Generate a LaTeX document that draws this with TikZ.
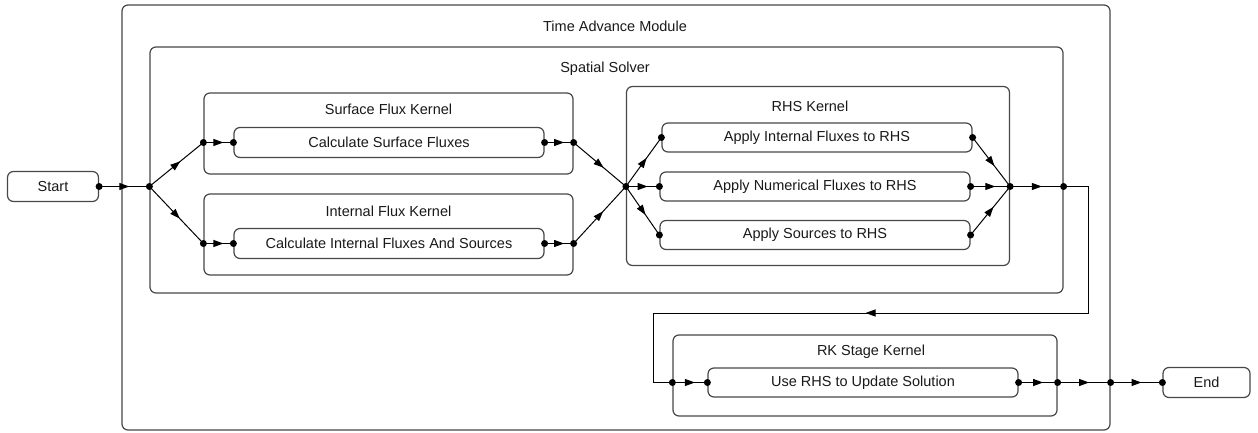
\documentclass[tikz,border=0pt]{standalone}
\usepackage{fontspec}
\setmainfont{Liberation Sans}
\usetikzlibrary{arrows.meta,decorations.markings,calc}
\begin{document}
\begin{tikzpicture}[x=1pt,y=-1pt,
  every node/.style={font=\fontsize{14.5}{16}\selectfont, text=black!90},
  frame/.style={draw=black!72, line width=1.2pt, rounded corners=6pt, inner sep=0pt},
  task/.style={draw=black!72, line width=1.2pt, rounded corners=6pt, inner sep=0pt},
  title/.style={inner sep=0pt, anchor=center},
  conn/.style={draw=black, line width=1pt},
  midarrow/.style={conn, postaction={decorate}, decoration={markings,
     mark=at position 0.5 with {\arrow[xshift=5pt]{Triangle[length=10pt,width=7pt]}}}},
  port/.style={circle, fill=black, inner sep=0pt, minimum size=7pt}
]
\useasboundingbox (0,0) rectangle (1258,433);

% containers
\node[frame, minimum width=988pt, minimum height=425pt] (outer) at (616,217.5) {};
\node[title] (outerT) at (615,26) {Time Advance Module};
\node[frame, minimum width=913pt, minimum height=246pt] (ss) at (606.5,170) {};
\node[title] (ssT) at (605,69) {Spatial Solver};
\node[frame, minimum width=369pt, minimum height=81pt] (sfk) at (388.5,133.5) {};
\node[title] (sfkT) at (388.5,109) {Surface Flux Kernel};
\node[frame, minimum width=369pt, minimum height=81pt] (ifk) at (388.5,234.5) {};
\node[title] (ifkT) at (388.5,211) {Internal Flux Kernel};
\node[frame, minimum width=383pt, minimum height=179pt] (rhs) at (818,176) {};
\node[title] (rhsT) at (810,106) {RHS Kernel};
\node[frame, minimum width=384pt, minimum height=81pt] (rk) at (865,375.5) {};
\node[title] (rkT) at (871,352) {RK Stage Kernel};

% tasks
\node[task, minimum width=91pt, minimum height=30pt] (start) at (53,186.5) {Start};
\node[task, minimum width=87pt, minimum height=30pt] (end) at (1206.5,382.5) {End};
\node[task, minimum width=310pt, minimum height=30pt] (csf) at (389,142.5) {Calculate Surface Fluxes};
\node[task, minimum width=310pt, minimum height=30pt] (cif) at (389,243.5) {Calculate Internal Fluxes And Sources};
\node[task, minimum width=310pt, minimum height=29pt] (aif) at (817,137.5) {Apply Internal Fluxes to RHS};
\node[task, minimum width=310pt, minimum height=29pt] (anf) at (815,186.5) {Apply Numerical Fluxes to RHS};
\node[task, minimum width=310pt, minimum height=29pt] (asr) at (815,235) {Apply Sources to RHS};
\node[task, minimum width=310pt, minimum height=29pt] (urhs) at (863,382.5) {Use RHS to Update Solution};

% port coordinates
\coordinate (ssin) at (ss.west |- start.east);
\coordinate (sfkin) at (sfk.west |- csf.west);
\coordinate (ifkin) at (ifk.west |- cif.west);
\coordinate (sfkout) at (sfk.east |- csf.east);
\coordinate (ifkout) at (ifk.east |- cif.east);
\coordinate (rhsin) at (rhs.west |- anf.west);
\coordinate (rhsout) at (rhs.east |- anf.east);
\coordinate (ssout) at (ss.east |- rhsout);
\coordinate (c1) at (1088,186.5);
\coordinate (c2) at (1088,313);
\coordinate (c3) at (653,313);
\coordinate (rkin) at (rk.west |- urhs.west);
\coordinate (c4) at (c3 |- rkin);
\coordinate (rkout) at (rk.east |- urhs.east);
\coordinate (outout) at (outer.east |- urhs.east);

% connectors
\draw[midarrow] (start.east) -- (ssin);
\draw[midarrow] (ssin) -- (sfkin);
\draw[midarrow] (ssin) -- (ifkin);
\draw[midarrow] (sfkin) -- (csf.west);
\draw[midarrow] (ifkin) -- (cif.west);
\draw[midarrow] (csf.east) -- (sfkout);
\draw[midarrow] (cif.east) -- (ifkout);
\draw[midarrow] (sfkout) -- (rhsin);
\draw[midarrow] (ifkout) -- (rhsin);
\draw[midarrow] (rhsin) -- (aif.west);
\draw[midarrow] (rhsin) -- (anf.west);
\draw[midarrow] (rhsin) -- (asr.west);
\draw[midarrow] (aif.east) -- (rhsout);
\draw[midarrow] (anf.east) -- (rhsout);
\draw[midarrow] (asr.east) -- (rhsout);
\draw[midarrow] (rhsout) -- (ssout);
\draw[conn, line join=miter] (ssout) -- (c1) -- (c2) -- (c3) -- (c4) -- (rkin);
\draw[midarrow] (c2) -- (c3);
\draw[midarrow] (rkin) -- (urhs.west);
\draw[midarrow] (urhs.east) -- (rkout);
\draw[midarrow] (rkout) -- (outout);
\draw[midarrow] (outout) -- (end.west);

% port dots
\foreach \p in {start.east, ssin, sfkin, ifkin, csf.west, cif.west, csf.east, cif.east,
  sfkout, ifkout, rhsin, aif.west, anf.west, asr.west, aif.east, anf.east, asr.east,
  rhsout, ssout, rkin, urhs.west, urhs.east, rkout, outout, end.west}
  \node[port] at (\p) {};
\end{tikzpicture}
\end{document}
